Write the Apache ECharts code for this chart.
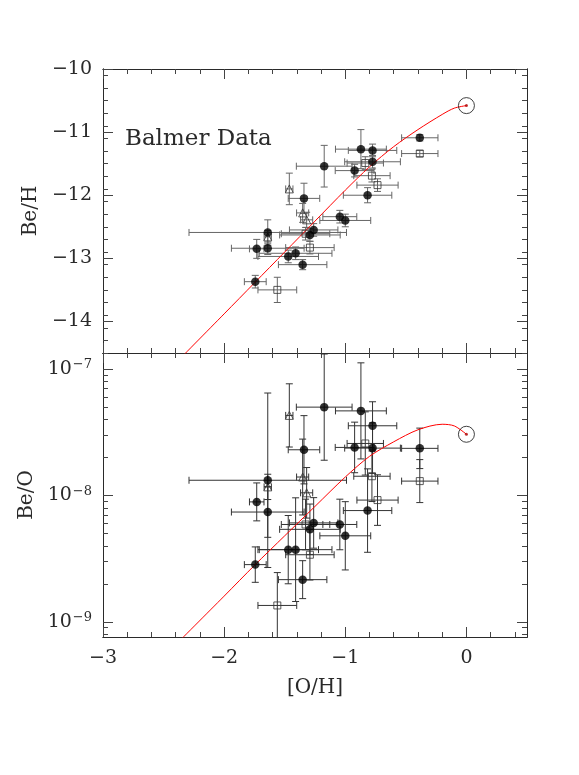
<!DOCTYPE html>
<html>
<head>
<meta charset="utf-8">
<script src="https://cdn.jsdelivr.net/npm/echarts@6/dist/echarts.min.js"></script>
<style>
html, body { margin: 0; padding: 0; background: #fff; }
#chart { width: 579px; height: 775px; }
</style>
</head>
<body>
<div id="chart"></div>
<script>
// ---- data ----
// filled circles
var circX    = [-0.385, -0.871, -0.775, -0.775, -1.174, -0.923, -1.341, -0.816, -1.045, -1.000, -1.640, -1.261, -1.292, -1.731, -1.640, -1.410, -1.471, -1.352, -1.743];
var circXErr = [0.15, 0.21, 0.20, 0.23, 0.23, 0.16, 0.13, 0.20, 0.14, 0.21, 0.65, 0.20, 0.25, 0.06, 0.30, 0.30, 0.25, 0.20, 0.09];
var circBeH    = [-11.09, -11.27, -11.29, -11.47, -11.54, -11.61, -12.05, -12.00, -12.34, -12.40, -12.59, -12.55, -12.63, -12.85, -12.84, -12.92, -12.97, -13.10, -13.37];
var circBeHErr = [0.05, 0.31, 0.10, 0.10, 0.33, 0.10, 0.24, 0.12, 0.10, 0.10, 0.20, 0.10, 0.10, 0.15, 0.10, 0.10, 0.10, 0.08, 0.10];
var circBeO    = [2.36e-8, 4.67e-8, 3.56e-8, 2.37e-8, 5.0e-8, 2.4e-8, 2.3e-8, 7.6e-9, 5.9e-9, 4.8e-9, 1.32e-8, 6.07e-9, 5.4e-9, 8.9e-9, 7.4e-9, 3.73e-9, 3.73e-9, 2.16e-9, 2.84e-9];
var circBeOErr = [0.16, 0.38, 0.19, 0.20, 0.42, 0.20, 0.27, 0.33, 0.20, 0.27, 0.69, 0.20, 0.20, 0.15, 0.20, 0.41, 0.27, 0.15, 0.14];

// open squares
var sqX    = [-0.385, -0.835, -0.780, -0.734, -1.328, -1.292, -1.561];
var sqXErr = [0.15, 0.15, 0.15, 0.17, 0.20, 0.20, 0.16];
var sqBeH    = [-11.34, -11.49, -11.69, -11.84, -12.61, -12.83, -13.50];
var sqBeHErr = [0.05, 0.10, 0.10, 0.10, 0.10, 0.10, 0.20];
var sqBeO    = [1.30e-8, 2.58e-8, 1.42e-8, 9.2e-9, 5.9e-9, 3.4e-9, 1.35e-9];
var sqBeOErr = [0.17, 0.25, 0.20, 0.20, 0.20, 0.20, 0.26];

// open triangles
var triX    = [-1.462, -1.352, -1.319, -1.640];
var triXErr = [0.03, 0.05, 0.05, 0.03];
var triBeH    = [-11.90, -12.28, -12.39, -12.66];
var triBeHErr = [0.25, 0.15, 0.12, 0.10];
var triBeO    = [4.3e-8, 1.4e-8, 1.05e-8, 1.17e-8];
var triBeOErr = [0.25, 0.30, 0.20, 0.10];

// sun
var sunX = [0];
var sunBeH = [-10.58];
var sunBeO = [3.05e-8];

// model curve
var curveX   = [-2.4, -2.0, -1.75, -1.5, -1.25, -1.0, -0.8, -0.6, -0.4, -0.2, -0.1, 0];
var curveBeH = [-14.66, -13.88, -13.39, -12.90, -12.41, -11.92, -11.55, -11.23, -10.96, -10.72, -10.62, -10.58];
var curveBeO = [6.6e-10, 1.6e-9, 2.8e-9, 4.8e-9, 8.2e-9, 1.4e-8, 2.04e-8, 2.66e-8, 3.31e-8, 3.66e-8, 3.55e-8, 3.05e-8];

// axes
var xRange = [-3, 0.5];
var xTickLabels = [-3, -2, -1, 0];
var beHRange = [-14.5, -10];
var beHTickLabels = [-14, -13, -12, -11, -10];
var beORange = [7.6e-10, 1.34e-7];
var beOTickLabels = [1e-9, 1e-8, 1e-7];

var FONT = 'DejaVu Serif';
var INK = '#2a2a2a';

function lg(v) { return Math.log10(v); }

// minor ticks
var xMinor = [];
for (var i = -30; i <= 5; i += 2) { if (i % 10 !== 0) xMinor.push(i / 10); }
var xMajor = [-3, -2, -1, 0];
var beHMinor = [];
for (var j = -145; j <= -100; j += 2) { if (j % 10 !== 0) beHMinor.push(j / 10); }
var beOMajor = beOTickLabels.map(function (v) { return Math.round(lg(v)); });
var beOMinor = [];
for (var d = -10; d <= -7; d++) {
    for (var k = 2; k <= 9; k++) {
        var lv = d + lg(k);
        if (lv >= lg(beORange[0]) && lv <= lg(beORange[1])) beOMinor.push(lv);
    }
}

function fmtNum(v) {
    return v < 0 ? '\u2212' + Math.abs(v) : String(v);
}

function makeX(grid, withLabels) {
    var out = [];
    ['bottom', 'top'].forEach(function (pos) {
        [true, false].forEach(function (major) {
            var ax = {
                type: 'value', gridIndex: grid, position: pos,
                min: xRange[0], max: xRange[1],
                splitLine: { show: false },
                axisLine: { onZero: false, lineStyle: { color: INK, width: 1 } },
                axisTick: { inside: true, length: major ? 10 : 5, customValues: major ? xMajor : xMinor, lineStyle: { color: '#444' } },
                axisLabel: { show: false }
            };
            if (withLabels && pos === 'bottom' && major) {
                ax.axisLabel = {
                    show: true, customValues: xTickLabels, margin: 12,
                    fontFamily: FONT, fontSize: 19, color: INK,
                    formatter: fmtNum
                };
                ax.name = '[O/H]';
                ax.nameLocation = 'middle';
                ax.nameGap = 41;
                ax.nameTextStyle = { fontFamily: FONT, fontSize: 20, color: INK };
            }
            out.push(ax);
        });
    });
    return out;
}

function makeY(grid, min, max, majors, minors, labelVals, fmt, name, rich) {
    var out = [];
    ['left', 'right'].forEach(function (pos) {
        [true, false].forEach(function (major) {
            var ax = {
                type: 'value', gridIndex: grid, position: pos,
                min: min, max: max,
                splitLine: { show: false },
                axisLine: { onZero: false, lineStyle: { color: INK, width: 1 } },
                axisTick: { inside: true, length: major ? 10 : 5, customValues: major ? majors : minors, lineStyle: { color: '#444' } },
                axisLabel: { show: false }
            };
            if (pos === 'left' && major) {
                ax.axisLabel = {
                    show: true, customValues: labelVals, margin: 11,
                    fontFamily: FONT, fontSize: 19, color: INK,
                    formatter: fmt
                };
                if (rich) ax.axisLabel.rich = rich;
                ax.name = name;
                ax.nameLocation = 'middle';
                ax.nameGap = 50;
                ax.nameRotate = 90;
                ax.nameTextStyle = { fontFamily: FONT, fontSize: 20, color: INK };
            }
            out.push(ax);
        });
    });
    return out;
}

function errorBars(color) {
    return function (params, api) {
        var x = api.value(0), y = api.value(1), xe = api.value(2), ye = api.value(3);
        var l = api.coord([x - xe, y]), r = api.coord([x + xe, y]);
        var t = api.coord([x, y + ye]), b = api.coord([x, y - ye]);
        var cap = 3.5;
        var segs = [
            [l[0], l[1], r[0], r[1]],
            [l[0], l[1] - cap, l[0], l[1] + cap],
            [r[0], r[1] - cap, r[0], r[1] + cap],
            [t[0], t[1], b[0], b[1]],
            [t[0] - cap, t[1], t[0] + cap, t[1]],
            [b[0] - cap, b[1], b[0] + cap, b[1]]
        ];
        return {
            type: 'group',
            children: segs.map(function (s) {
                return { type: 'line', shape: { x1: s[0], y1: s[1], x2: s[2], y2: s[3] }, style: { stroke: color, lineWidth: 1, fill: null } };
            })
        };
    };
}

function pts(xs, ys, xe, ye, logY) {
    return xs.map(function (x, i) {
        return [x, logY ? lg(ys[i]) : ys[i], xe ? xe[i] : 0, ye ? ye[i] : 0];
    });
}

function xy(xs, ys, logY) {
    return pts(xs, ys, null, null, logY).map(function (p) { return [p[0], p[1]]; });
}

function panelSeries(ax, logY, ysC, yeC, ysS, yeS, ysT, yeT, ysSun, ysCurve, barColor) {
    var base = { xAxisIndex: ax, yAxisIndex: ax };
    return [
        Object.assign({ type: 'custom', renderItem: errorBars(barColor), clip: true, encode: { x: 0, y: 1 }, data: pts(circX, ysC, circXErr, yeC, logY), z: 2 }, base),
        Object.assign({ type: 'custom', renderItem: errorBars(barColor), clip: true, encode: { x: 0, y: 1 }, data: pts(sqX, ysS, sqXErr, yeS, logY), z: 2 }, base),
        Object.assign({ type: 'custom', renderItem: errorBars(barColor), clip: true, encode: { x: 0, y: 1 }, data: pts(triX, ysT, triXErr, yeT, logY), z: 2 }, base),
        Object.assign({ type: 'line', data: xy(curveX, ysCurve, logY), smooth: 0.3, showSymbol: false, clip: true, lineStyle: { color: '#ff0000', width: 1 }, z: 3 }, base),
        Object.assign({ type: 'scatter', symbol: 'rect', symbolSize: 7, data: xy(sqX, ysS, logY), itemStyle: { color: 'rgba(0,0,0,0)', borderColor: '#333', borderWidth: 1 }, z: 4 }, base),
        Object.assign({ type: 'scatter', symbol: 'triangle', symbolSize: 8, data: xy(triX, ysT, logY), itemStyle: { color: 'rgba(0,0,0,0)', borderColor: '#333', borderWidth: 1 }, z: 4 }, base),
        Object.assign({ type: 'scatter', symbol: 'circle', symbolSize: 8.5, data: xy(circX, ysC, logY), itemStyle: { color: '#000' }, z: 5 }, base),
        Object.assign({ type: 'scatter', symbol: 'circle', symbolSize: 16, data: xy(sunX, ysSun, logY), itemStyle: { color: 'rgba(0,0,0,0)', borderColor: '#111', borderWidth: 1 }, z: 5 }, base),
        Object.assign({ type: 'scatter', symbol: 'circle', symbolSize: 3, data: xy(sunX, ysSun, logY), itemStyle: { color: '#a00' }, z: 6 }, base)
    ];
}

var chart = echarts.init(document.getElementById('chart'), null, { renderer: 'canvas' });

var option = {
    animation: false,
    backgroundColor: '#fff',
    title: {
        text: 'Balmer Data', left: 125, top: 128, padding: 0,
        textStyle: { fontFamily: FONT, fontSize: 23, fontWeight: 'normal', color: INK }
    },
    grid: [
        { left: 103, right: 52, top: 69, height: 284, outerBoundsMode: 'none', containLabel: false },
        { left: 103, right: 52, top: 353, height: 284, outerBoundsMode: 'none', containLabel: false }
    ],
    xAxis: makeX(0, false).concat(makeX(1, true)),
    yAxis: makeY(0, beHRange[0], beHRange[1], beHTickLabels, beHMinor, beHTickLabels, fmtNum, 'Be/H', null)
        .concat(makeY(1, lg(beORange[0]), lg(beORange[1]), beOMajor, beOMinor, beOMajor,
            function (v) { return '{b|10}{s|\u2212' + Math.abs(Math.round(v)) + '}'; }, 'Be/O',
            { b: { fontFamily: FONT, fontSize: 19, color: INK }, s: { fontFamily: FONT, fontSize: 13, color: INK, verticalAlign: 'top', padding: [0, 0, 8, 1] } })),
    series: panelSeries(0, false, circBeH, circBeHErr, sqBeH, sqBeHErr, triBeH, triBeHErr, sunBeH, curveBeH, '#666')
        .concat(panelSeries(4, true, circBeO, circBeOErr, sqBeO, sqBeOErr, triBeO, triBeOErr, sunBeO, curveBeO, '#333'))
};

chart.setOption(option);
window.addEventListener('resize', function () {
    chart.resize();
});
</script>
</body>
</html>
